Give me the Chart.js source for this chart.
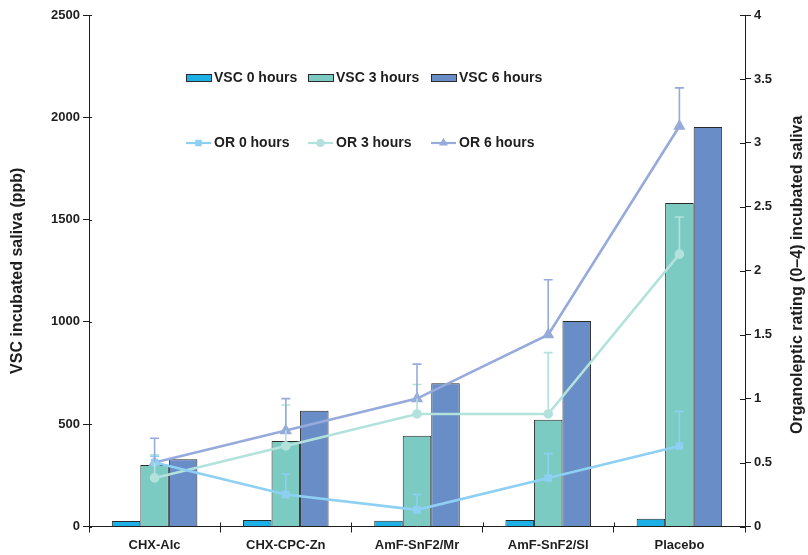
<!DOCTYPE html>
<html>
<head>
<meta charset="utf-8">
<script src="https://cdn.jsdelivr.net/npm/chart.js@4/dist/chart.umd.min.js"></script>
<style>
  html, body { margin: 0; padding: 0; background: #ffffff; }
  canvas { display: block; }
</style>
</head>
<body>
<canvas id="chart" width="808" height="555"></canvas>
<script>
// Mouthrinse groups
const categories = ['CHX-Alc', 'CHX-CPC-Zn', 'AmF-SnF2/Mr', 'AmF-SnF2/Sl', 'Placebo'];

// Volatile sulphur compounds in incubated saliva (ppb)
const vsc0h = [27, 32, 28, 32, 38];
const vsc3h = [301, 418, 443, 522, 1581];
const vsc6h = [329, 566, 700, 1004, 1953];

// Organoleptic rating (0-4) with upper standard deviations
const or0h = [0.50, 0.25, 0.13, 0.38, 0.63];
const or0hSd = [0.05, 0.16, 0.12, 0.19, 0.27];
const or3h = [0.38, 0.63, 0.88, 0.88, 2.13];
const or3hSd = [0.18, 0.32, 0.23, 0.48, 0.29];
const or6h = [0.50, 0.75, 1.00, 1.50, 3.13];
const or6hSd = [0.19, 0.25, 0.27, 0.43, 0.30];

// Axis tick values
const vscTicks = [0, 500, 1000, 1500, 2000, 2500];
const orTicks = [0, 0.5, 1, 1.5, 2, 2.5, 3, 3.5, 4];

const leftTitle = 'VSC incubated saliva (ppb)';
const rightTitle = 'Organoleptic rating (0\u20134) incubated saliva';

const FONT = '"Liberation Sans", Arial, Helvetica, sans-serif';
const INK = '#1e1e1e';

// Vertical error bars (upper SD only) for the rating lines
const errorBars = {
  id: 'errorBars',
  afterDatasetsDraw(chart) {
    const ctx = chart.ctx;
    const y = chart.scales.y1;
    chart.data.datasets.forEach((ds, i) => {
      if (!ds.sd) return;
      const meta = chart.getDatasetMeta(i);
      meta.data.forEach((pt, j) => {
        const top = y.getPixelForValue(ds.data[j] + ds.sd[j]);
        ctx.save();
        ctx.strokeStyle = ds.borderColor;
        ctx.lineWidth = 1.6;
        ctx.beginPath();
        ctx.moveTo(pt.x, pt.y);
        ctx.lineTo(pt.x, top);
        ctx.moveTo(pt.x - 4.5, top);
        ctx.lineTo(pt.x + 4.5, top);
        ctx.stroke();
        ctx.restore();
      });
    });
  }
};

// Short tick marks on the inner side of each axis line
const innerTicks = {
  id: 'innerTicks',
  afterDraw(chart) {
    const ctx = chart.ctx;
    const { x, y, y1 } = chart.scales;
    ctx.save();
    ctx.strokeStyle = INK;
    ctx.lineWidth = 1;
    ctx.beginPath();
    y.ticks.forEach(t => {
      const py = Math.round(y.getPixelForValue(t.value)) + 0.5;
      ctx.moveTo(y.right, py); ctx.lineTo(y.right + 3, py);
    });
    y1.ticks.forEach(t => {
      const py = Math.round(y1.getPixelForValue(t.value)) + 0.5;
      ctx.moveTo(y1.left, py); ctx.lineTo(y1.left - 5, py);
    });
    for (let i = 1; i < categories.length; i++) {
      const px = Math.round((x.getPixelForValue(i - 1) + x.getPixelForValue(i)) / 2) + 0.5;
      ctx.moveTo(px, x.top); ctx.lineTo(px, x.top - 4);
    }
    ctx.stroke();
    ctx.restore();
  }
};

// Two-row legend inside the plot plus the right axis title
const overlay = {
  id: 'overlay',
  afterDraw(chart) {
    const ctx = chart.ctx;
    const ds = chart.data.datasets;
    const cols = [186, 308, 431];
    ctx.save();
    ctx.font = 'bold 14px ' + FONT;
    ctx.fillStyle = INK;
    ctx.textBaseline = 'middle';
    // bar series row
    ds.filter(d => d.type === 'bar').forEach((d, k) => {
      const x = cols[k], yMid = 78;
      ctx.fillStyle = d.backgroundColor;
      ctx.fillRect(x, yMid - 3.5, 25, 7);
      ctx.strokeStyle = '#2a2a2a';
      ctx.lineWidth = 1;
      ctx.strokeRect(x + 0.5, yMid - 3.5, 25, 7);
      ctx.fillStyle = INK;
      ctx.fillText(d.label, x + 28, yMid);
    });
    // line series row
    ds.filter(d => d.type === 'line').forEach((d, k) => {
      const x = cols[k], yMid = 143;
      ctx.strokeStyle = d.borderColor;
      ctx.lineWidth = 2.2;
      ctx.beginPath();
      ctx.moveTo(x, yMid);
      ctx.lineTo(x + 25, yMid);
      ctx.stroke();
      Chart.helpers.drawPoint(ctx, {
        pointStyle: d.pointStyle, radius: 3, rotation: 0, borderWidth: 1
      }, x + 12.5, yMid);
      ctx.fillStyle = d.borderColor;
      ctx.fill();
      ctx.fillStyle = INK;
      ctx.fillText(d.label, x + 28, yMid);
    });
    // right axis title, reading bottom to top
    const a = chart.chartArea;
    ctx.translate(798, (a.top + a.bottom) / 2 + 4);
    ctx.rotate(-Math.PI / 2);
    ctx.textAlign = 'center';
    ctx.font = 'bold 16px ' + FONT;
    ctx.fillText(rightTitle, 0, 0);
    ctx.restore();
  }
};

const c0 = '#1cb0e6', c3 = '#7ccbc3', c6 = '#698dc6';
const l0 = '#8dd0f4', l3 = '#b3e2dc', l6 = '#96abdc';
const plain = v => String(v);

new Chart(document.getElementById('chart'), {
  type: 'bar',
  data: {
    labels: categories,
    datasets: [
      { type: 'line', label: 'OR 0 hours', data: or0h, sd: or0hSd, yAxisID: 'y1',
        borderColor: l0, backgroundColor: l0, pointStyle: 'rect', pointRadius: 3.5, borderWidth: 2.6, order: 0 },
      { type: 'line', label: 'OR 3 hours', data: or3h, sd: or3hSd, yAxisID: 'y1',
        borderColor: l3, backgroundColor: l3, pointStyle: 'circle', pointRadius: 3.5, borderWidth: 2.6, order: 0 },
      { type: 'line', label: 'OR 6 hours', data: or6h, sd: or6hSd, yAxisID: 'y1',
        borderColor: l6, backgroundColor: l6, pointStyle: 'triangle', pointRadius: 4.5, borderWidth: 2.6, order: 0 },
      { type: 'bar', label: 'VSC 0 hours', data: vsc0h, yAxisID: 'y',
        backgroundColor: c0, borderColor: '#2a2a2a', borderWidth: 1, order: 1 },
      { type: 'bar', label: 'VSC 3 hours', data: vsc3h, yAxisID: 'y',
        backgroundColor: c3, borderColor: '#2a2a2a', borderWidth: 1, order: 1 },
      { type: 'bar', label: 'VSC 6 hours', data: vsc6h, yAxisID: 'y',
        backgroundColor: c6, borderColor: '#2a2a2a', borderWidth: 1, order: 1 }
    ]
  },
  options: {
    responsive: false,
    animation: false,
    devicePixelRatio: 1,
    layout: { padding: { top: 15, left: 0, right: 0, bottom: 0 } },
    datasets: {
      bar: { categoryPercentage: 0.652, barPercentage: 1.0 },
      line: { tension: 0 }
    },
    plugins: {
      legend: { display: false },
      tooltip: { enabled: false }
    },
    scales: {
      x: {
        grid: { offset: true, drawOnChartArea: false, tickLength: 6, color: INK },
        border: { color: INK, width: 1 },
        ticks: { color: INK, font: { family: FONT, size: 13, weight: 'bold' }, padding: 5, maxRotation: 0 },
        afterFit(s) { s.height = 28.5; }
      },
      y: {
        position: 'left',
        min: 0, max: 2500,
        afterBuildTicks(s) { s.ticks = vscTicks.map(v => ({ value: v })); },
        grid: { drawOnChartArea: false, tickLength: 6, color: INK },
        border: { color: INK, width: 1 },
        ticks: { color: INK, font: { family: FONT, size: 13, weight: 'bold' }, padding: 3, callback: plain },
        title: { display: true, text: leftTitle, color: INK,
                 font: { family: FONT, size: 16, weight: 'bold' }, padding: { top: 8, bottom: 0 } },
        afterFit(s) { s.width = 89; }
      },
      y1: {
        position: 'right',
        min: 0, max: 4,
        afterBuildTicks(s) { s.ticks = orTicks.map(v => ({ value: v })); },
        grid: { drawOnChartArea: false, tickLength: 6, color: INK },
        border: { color: INK, width: 1 },
        ticks: { color: INK, font: { family: FONT, size: 13, weight: 'bold' }, padding: 3, callback: plain },
        afterFit(s) { s.width = 63; }
      }
    }
  },
  plugins: [errorBars, innerTicks, overlay]
});
</script>
</body>
</html>
